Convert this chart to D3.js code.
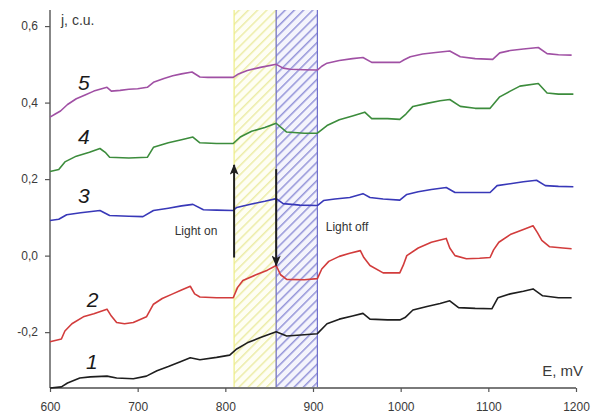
<!DOCTYPE html>
<html>
<head>
<meta charset="utf-8">
<script src="https://cdn.jsdelivr.net/npm/d3@7"></script>
<style>
  html, body { margin: 0; padding: 0; background: #fff; }
  svg { display: block; font-family: "Liberation Sans", Arial, sans-serif; }
</style>
</head>
<body>
<svg id="chart" width="592" height="417"></svg>
<script>
// Potential sweep, mV: axis ticks
const xTicks = [600, 700, 800, 900, 1000, 1100, 1200];
const yTicks = [-0.2, 0.0, 0.2, 0.4, 0.6];

// Illumination windows, mV
const lightOnWindow = [810, 858];
const lightOffWindow = [858, 905];

// Current density curves, [E (mV), j (c.u.)]
const curve1 = [[600,-0.346],[613,-0.343],[620,-0.333],[634,-0.32],[646,-0.317],[665,-0.315],[676,-0.32],[695,-0.322],[710,-0.315],[722,-0.301],[735,-0.29],[748,-0.278],[760,-0.267],[771,-0.272],[790,-0.266],[805,-0.26],[813,-0.244],[825,-0.228],[840,-0.214],[858,-0.199],[870,-0.21],[890,-0.207],[905,-0.204],[916,-0.178],[930,-0.166],[945,-0.158],[957,-0.151],[965,-0.166],[985,-0.168],[999,-0.168],[1005,-0.162],[1014,-0.142],[1030,-0.133],[1045,-0.125],[1056,-0.118],[1066,-0.136],[1085,-0.138],[1104,-0.139],[1111,-0.11],[1125,-0.1],[1140,-0.093],[1151,-0.087],[1162,-0.105],[1180,-0.11],[1195,-0.11]];

const curve2 = [[600,-0.225],[613,-0.218],[617,-0.197],[625,-0.178],[638,-0.16],[650,-0.152],[665,-0.14],[670,-0.158],[676,-0.175],[685,-0.178],[695,-0.175],[710,-0.16],[718,-0.127],[728,-0.112],[740,-0.1],[750,-0.09],[760,-0.08],[765,-0.1],[771,-0.108],[790,-0.11],[809,-0.11],[814,-0.083],[820,-0.065],[835,-0.05],[848,-0.038],[858,-0.026],[863,-0.05],[870,-0.062],[890,-0.063],[905,-0.06],[910,-0.035],[918,-0.015],[930,-0.002],[942,0.006],[954,0.013],[958,-0.005],[965,-0.026],[980,-0.045],[999,-0.045],[1003,-0.025],[1007,0.0],[1020,0.02],[1035,0.035],[1052,0.045],[1056,0.02],[1062,0.0],[1075,-0.008],[1090,-0.007],[1102,-0.005],[1106,0.015],[1112,0.035],[1125,0.055],[1140,0.068],[1151,0.078],[1156,0.06],[1161,0.04],[1170,0.023],[1185,0.02],[1195,0.018]];

const curve3 = [[600,0.092],[610,0.095],[619,0.107],[635,0.112],[657,0.118],[668,0.105],[690,0.103],[706,0.102],[718,0.118],[735,0.124],[750,0.13],[763,0.134],[775,0.12],[790,0.119],[809,0.118],[813,0.126],[830,0.135],[845,0.142],[858,0.149],[866,0.136],[885,0.132],[905,0.131],[912,0.144],[925,0.148],[942,0.152],[957,0.162],[965,0.152],[980,0.148],[999,0.145],[1007,0.16],[1020,0.167],[1035,0.173],[1052,0.178],[1062,0.165],[1080,0.165],[1102,0.165],[1110,0.183],[1125,0.188],[1140,0.193],[1155,0.197],[1165,0.183],[1180,0.181],[1197,0.18]];

const curve4 = [[600,0.22],[610,0.225],[617,0.245],[630,0.26],[645,0.27],[657,0.28],[663,0.27],[668,0.257],[690,0.255],[711,0.257],[718,0.283],[735,0.295],[750,0.303],[763,0.31],[771,0.295],[790,0.293],[809,0.293],[817,0.31],[830,0.325],[845,0.335],[858,0.346],[870,0.323],[890,0.32],[905,0.32],[916,0.34],[930,0.355],[945,0.365],[959,0.375],[967,0.358],[985,0.358],[999,0.356],[1006,0.37],[1014,0.39],[1030,0.398],[1045,0.405],[1056,0.408],[1068,0.39],[1085,0.385],[1102,0.385],[1113,0.415],[1125,0.43],[1136,0.443],[1157,0.45],[1167,0.425],[1180,0.422],[1197,0.422]];

const curve5 = [[600,0.362],[606,0.37],[612,0.378],[620,0.395],[630,0.41],[640,0.42],[650,0.43],[660,0.437],[665,0.44],[670,0.43],[680,0.432],[690,0.435],[700,0.436],[711,0.44],[718,0.453],[730,0.463],[740,0.47],[750,0.475],[762,0.48],[771,0.467],[780,0.466],[795,0.466],[809,0.466],[815,0.475],[825,0.484],[840,0.492],[858,0.50],[866,0.49],[874,0.487],[890,0.486],[905,0.485],[910,0.495],[916,0.503],[930,0.51],[945,0.515],[957,0.518],[967,0.505],[980,0.505],[999,0.505],[1004,0.512],[1011,0.52],[1025,0.527],[1040,0.531],[1056,0.535],[1068,0.52],[1085,0.515],[1105,0.513],[1113,0.53],[1125,0.536],[1140,0.54],[1157,0.544],[1167,0.528],[1180,0.525],[1195,0.524]];

const curveNames = ["1", "2", "3", "4", "5"];
const curveColors = ["#1e1e1e", "#d23c3c", "#3838b8", "#3c8c3c", "#a050a4"];
const curves = [curve1, curve2, curve3, curve4, curve5];
// label anchor for each curve number, [E, j]
const curveLabelPos = [[641, -0.297], [642, -0.133], [632, 0.137], [632, 0.292], [632, 0.432]];

// Arrows: light switched on / off, [E, j start, j end]
const arrowOn = [810, -0.005, 0.237];
const arrowOff = [858, 0.226, -0.026];

const svg = d3.select("#chart");
const x = d3.scaleLinear().domain([600, 1200]).range([50, 576]);
const y = d3.scaleLinear().domain([-0.346, 0.642]).range([388, 10]);

const defs = svg.append("defs");
function hatch(id, bg, stroke, w) {
  const p = defs.append("pattern")
    .attr("id", id).attr("patternUnits", "userSpaceOnUse")
    .attr("width", 6.5).attr("height", 6.5)
    .attr("patternTransform", "rotate(45)");
  p.append("rect").attr("width", 6.5).attr("height", 6.5).attr("fill", bg);
  p.append("line").attr("x1", 0.8).attr("y1", 0).attr("x2", 0.8).attr("y2", 6.5)
    .attr("stroke", stroke).attr("stroke-width", w);
}
hatch("hatchOn", "#fefef4", "#e6e68c", 1.1);
hatch("hatchOff", "#f4f4fc", "#7c7cd0", 1.2);

const arrowHead = defs.append("marker")
  .attr("id", "head").attr("viewBox", "0 -5 12 10")
  .attr("refX", 11).attr("refY", 0)
  .attr("markerWidth", 6).attr("markerHeight", 4.5)
  .attr("markerUnits", "strokeWidth").attr("orient", "auto");
arrowHead.append("path").attr("d", "M0,-5L12,0L0,5L3,0Z").attr("fill", "#1e1e1e");

// shaded illumination windows
const topY = y(0.642), botY = y(-0.346);
[[lightOnWindow, "url(#hatchOn)", "#eded84"], [lightOffWindow, "url(#hatchOff)", "#6e6ecc"]]
  .forEach(([w, fill, edge]) => {
    svg.append("rect")
      .attr("x", x(w[0])).attr("y", topY)
      .attr("width", x(w[1]) - x(w[0])).attr("height", botY - topY)
      .attr("fill", fill);
    w.forEach(v => svg.append("line")
      .attr("x1", x(v)).attr("x2", x(v)).attr("y1", topY).attr("y2", botY)
      .attr("stroke", edge).attr("stroke-width", 1.2));
  });

// axes
const xAxis = svg.append("g").attr("transform", `translate(0,${y(-0.346)})`)
  .call(d3.axisBottom(x).tickValues(xTicks).tickSize(4).tickPadding(10)
    .tickFormat(d3.format("d")));
const yAxis = svg.append("g").attr("transform", `translate(${x(600)},0)`)
  .call(d3.axisLeft(y).tickValues(yTicks).tickSize(5).tickPadding(7)
    .tickFormat(d => d3.format(".1f")(d).replace(".", ",").replace("−", "-")));
[xAxis, yAxis].forEach(g => {
  g.select(".domain").attr("stroke", "#7a7a7a").attr("stroke-width", 1.8);
  g.selectAll(".tick line").attr("stroke", "#555").attr("stroke-width", 1.2);
  g.selectAll(".tick text").attr("fill", "#3a3a3a").attr("font-size", 12)
    .attr("font-family", "'Liberation Sans', Arial, sans-serif");
});
xAxis.select(".domain").attr("d", `M${x(600)},0H${x(1200)}`);
yAxis.select(".domain").attr("d", `M0,${y(-0.346)}V${y(0.642)}`);

// axis titles
svg.append("text").attr("x", 61).attr("y", 25)
  .attr("font-size", 14).attr("fill", "#3a3a3a").text("j, c.u.");
svg.append("text").attr("x", 583).attr("y", 376).attr("text-anchor", "end")
  .attr("font-size", 15).attr("fill", "#3a3a3a").text("E, mV");

// curves
const line = d3.line().x(d => x(d[0])).y(d => y(d[1]));
curves.forEach((c, i) => {
  svg.append("path").datum(c)
    .attr("fill", "none").attr("stroke", curveColors[i])
    .attr("stroke-width", 1.6).attr("stroke-linejoin", "round")
    .attr("d", line);
});

// curve numbers
curveLabelPos.forEach((p, i) => {
  svg.append("text").attr("x", x(p[0])).attr("y", y(p[1]))
    .attr("font-size", 21).attr("font-style", "italic")
    .attr("fill", "#1a1a1a").text(curveNames[i]);
});

// light on / off arrows
[arrowOn, arrowOff].forEach(a => {
  svg.append("line")
    .attr("x1", x(a[0])).attr("x2", x(a[0]))
    .attr("y1", y(a[1])).attr("y2", y(a[2]))
    .attr("stroke", "#1e1e1e").attr("stroke-width", 2)
    .attr("marker-end", "url(#head)");
});
svg.append("text").attr("x", 196).attr("y", 235).attr("text-anchor", "middle")
  .attr("font-size", 12).attr("fill", "#333").text("Light on");
svg.append("text").attr("x", 347).attr("y", 231).attr("text-anchor", "middle")
  .attr("font-size", 12).attr("fill", "#333").text("Light off");
</script>
</body>
</html>
